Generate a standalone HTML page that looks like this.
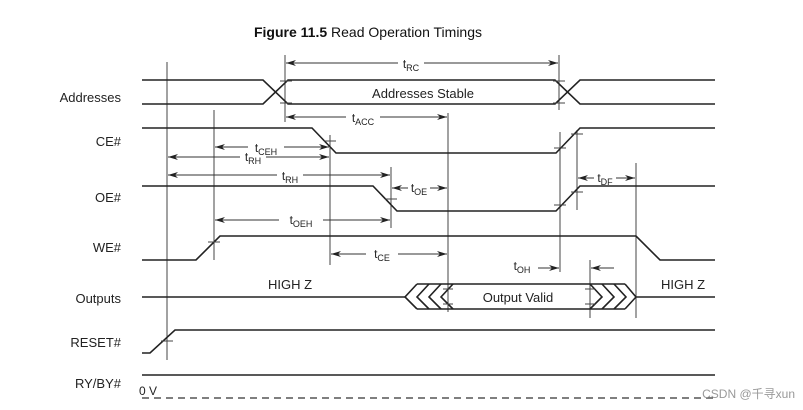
<!DOCTYPE html>
<html><head><meta charset="utf-8"><style>
html,body{margin:0;padding:0;background:#fff;}
svg{display:block;font-family:"Liberation Sans",Arial,sans-serif;}
</style></head><body>
<svg width="803" height="410" viewBox="0 0 803 410" xmlns="http://www.w3.org/2000/svg">
<defs>
<marker id="a" viewBox="0 0 10 6" refX="10" refY="3" markerWidth="10" markerHeight="6" markerUnits="userSpaceOnUse" orient="auto-start-reverse"><path d="M0,0 L10,3 L0,6 L3,3 Z" fill="#222"/></marker>
</defs>
<text x="368" y="37" font-size="14" text-anchor="middle" fill="#111"><tspan font-weight="bold">Figure 11.5</tspan>  Read Operation Timings</text>
<g font-size="13" fill="#222" text-anchor="end">
<text x="121" y="102">Addresses</text>
<text x="121" y="146">CE#</text>
<text x="121" y="202">OE#</text>
<text x="121" y="252">WE#</text>
<text x="121" y="303">Outputs</text>
<text x="121" y="347">RESET#</text>
<text x="121" y="388">RY/BY#</text>
</g>
<!-- vertical reference lines -->
<g stroke="#444" stroke-width="1" fill="none">
<line x1="167" y1="62" x2="167" y2="360"/>
<line x1="214" y1="110" x2="214" y2="260"/>
<line x1="285" y1="55" x2="285" y2="110"/>
<line x1="559" y1="55" x2="559" y2="110"/>
<line x1="285" y1="110" x2="285" y2="122"/>
<line x1="330" y1="135" x2="330" y2="265"/>
<line x1="391" y1="167" x2="391" y2="228"/>
<line x1="448" y1="113" x2="448" y2="312"/>
<line x1="560" y1="132" x2="560" y2="272"/>
<line x1="577" y1="130" x2="577" y2="210"/>
<line x1="636" y1="163" x2="636" y2="318"/>
<line x1="590" y1="260" x2="590" y2="318"/>
</g>
<!-- signals -->
<g stroke="#222" stroke-width="1.6" fill="none">
<polyline points="142,80 263,80 288,104 555,104 580,80 715,80"/>
<polyline points="142,104 263,104 288,80 555,80 580,104 715,104"/>
<polyline points="142,128 312,128 336,153 556,153 580,128 715,128"/>
<polyline points="142,186 373,186 397,211 556,211 580,186 715,186"/>
<polyline points="142,260 196,260 220,236 636,236 660,260 715,260"/>
<polyline points="142,353 150,353 175,330 715,330"/>
<line x1="142" y1="375" x2="715" y2="375"/>
<line x1="142" y1="297" x2="405" y2="297"/>
<line x1="636" y1="297" x2="715" y2="297"/>
<line x1="417" y1="284" x2="625" y2="284"/>
<line x1="417" y1="309" x2="625" y2="309"/>
<polyline points="417,284 405,297 417,309"/>
<polyline points="429,284 417,297 429,309"/>
<polyline points="441,284 429,297 441,309"/>
<polyline points="453,284 441,297 453,309"/>
<polyline points="590,284 602,297 590,309"/>
<polyline points="602,284 614,297 602,309"/>
<polyline points="614,284 626,297 614,309"/>
<polyline points="625,284 636,297 625,309"/>
</g>
<line x1="142" y1="398" x2="715" y2="398" stroke="#333" stroke-width="1.2" stroke-dasharray="7,5"/>
<!-- tick marks -->
<g stroke="#444" stroke-width="1">
<line x1="280" y1="81" x2="292" y2="81"/><line x1="280" y1="103" x2="292" y2="103"/>
<line x1="553" y1="81" x2="565" y2="81"/><line x1="553" y1="103" x2="565" y2="103"/>
<line x1="324" y1="141" x2="336" y2="141"/><line x1="385" y1="199" x2="397" y2="199"/>
<line x1="554" y1="148" x2="566" y2="148"/><line x1="571" y1="134" x2="583" y2="134"/>
<line x1="554" y1="205" x2="566" y2="205"/><line x1="571" y1="192" x2="583" y2="192"/>
<line x1="208" y1="242" x2="220" y2="242"/><line x1="161" y1="341" x2="173" y2="341"/>
<line x1="443" y1="289" x2="453" y2="289"/><line x1="443" y1="304" x2="453" y2="304"/>
<line x1="585" y1="289" x2="595" y2="289"/><line x1="585" y1="304" x2="595" y2="304"/>
</g>
<!-- dimension arrows -->
<g stroke="#333" stroke-width="1" marker-start="url(#a)" marker-end="url(#a)">
<line x1="286" y1="63" x2="398" y2="63" marker-end="none"/><line x1="424" y1="63" x2="558" y2="63" marker-start="none"/>
<line x1="286" y1="117" x2="346" y2="117" marker-end="none"/><line x1="380" y1="117" x2="447" y2="117" marker-start="none"/>
<line x1="215" y1="147" x2="248" y2="147" marker-end="none"/><line x1="284" y1="147" x2="329" y2="147" marker-start="none"/>
<line x1="168" y1="157" x2="240" y2="157" marker-end="none"/><line x1="266" y1="157" x2="329" y2="157" marker-start="none"/>
<line x1="168" y1="175" x2="277" y2="175" marker-end="none"/><line x1="303" y1="175" x2="390" y2="175" marker-start="none"/>
<line x1="392" y1="188" x2="408" y2="188" marker-end="none"/><line x1="430" y1="188" x2="447" y2="188" marker-start="none"/>
<line x1="215" y1="220" x2="279" y2="220" marker-end="none"/><line x1="323" y1="220" x2="390" y2="220" marker-start="none"/>
<line x1="331" y1="254" x2="366" y2="254" marker-end="none"/><line x1="398" y1="254" x2="447" y2="254" marker-start="none"/>
<line x1="578" y1="178" x2="594" y2="178" marker-end="none"/><line x1="616" y1="178" x2="635" y2="178" marker-start="none"/>
<line x1="538" y1="268" x2="559" y2="268" marker-start="none"/>
<line x1="591" y1="268" x2="614" y2="268" marker-end="none"/>
</g>
<g font-size="12" fill="#222" text-anchor="middle">
<text x="411" y="68">t<tspan font-size="9" dy="3">RC</tspan></text>
<text x="363" y="122">t<tspan font-size="9" dy="3">ACC</tspan></text>
<text x="266" y="152">t<tspan font-size="9" dy="3">CEH</tspan></text>
<text x="253" y="161">t<tspan font-size="9" dy="3">RH</tspan></text>
<text x="290" y="180">t<tspan font-size="9" dy="3">RH</tspan></text>
<text x="419" y="192">t<tspan font-size="9" dy="3">OE</tspan></text>
<text x="301" y="224">t<tspan font-size="9" dy="3">OEH</tspan></text>
<text x="382" y="258">t<tspan font-size="9" dy="3">CE</tspan></text>
<text x="605" y="182">t<tspan font-size="9" dy="3">DF</tspan></text>
<text x="522" y="270">t<tspan font-size="9" dy="3">OH</tspan></text>
</g>
<g font-size="13" fill="#222" text-anchor="middle">
<text x="423" y="98">Addresses Stable</text>
<text x="290" y="289">HIGH Z</text>
<text x="683" y="289">HIGH Z</text>
<text x="518" y="302">Output Valid</text>
<text x="148" y="395" font-size="12">0 V</text>
</g>
<text x="795" y="398" font-size="12" fill="#999" text-anchor="end" font-family="Liberation Sans, Noto Sans CJK SC, sans-serif">CSDN @千寻xun</text>
</svg>
</body></html>
